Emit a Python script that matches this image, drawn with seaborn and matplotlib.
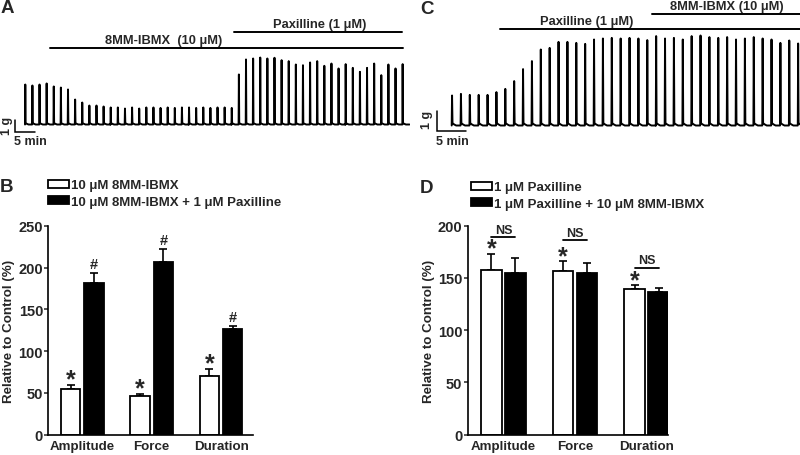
import numpy as np
import pandas as pd
import matplotlib
matplotlib.use('Agg')
import matplotlib.pyplot as plt
import seaborn as sns
from matplotlib.lines import Line2D
from matplotlib.patches import Patch

sns.set_theme(style='ticks')
plt.rcParams['font.family'] = ['Liberation Sans', 'DejaVu Sans']
plt.rcParams['font.weight'] = 'bold'
plt.rcParams['axes.labelweight'] = 'bold'

# ── Data ──────────────────────────────────────────────────────────────────────

# Panel A: contraction amplitude (g) of each spike, 8MM-IBMX then + paxilline
trace_a_ibmx = [3.33, 3.25, 3.33, 3.42, 3.17, 3.08, 2.92,
                2.08, 1.83, 1.58, 1.58, 1.50, 1.42, 1.42, 1.33, 1.42, 1.33, 1.42,
                1.42, 1.38, 1.42, 1.38, 1.42, 1.42, 1.38, 1.42, 1.38, 1.42, 1.42, 1.38]
trace_a_pax = [4.17, 5.42, 5.50, 5.58, 5.50, 5.56, 5.36, 5.28, 5.00, 4.94, 5.17, 5.28,
               4.89, 5.08, 4.67, 5.03, 4.72, 4.39, 4.72, 5.08, 4.11, 5.00, 4.67, 5.03]
period_a = 1.78   # min between contractions

# Panel C: paxilline first, then + 8MM-IBMX
trace_c = [1.50, 1.58, 1.53, 1.53, 1.53, 1.67, 1.83, 2.22, 2.82, 3.22, 3.80, 3.88,
           4.18, 4.18, 4.13, 4.08, 4.30, 4.35, 4.38, 4.35, 4.38, 4.35, 4.27, 4.47,
           4.35, 4.38, 4.30, 4.47, 4.50, 4.42, 4.38, 4.42, 4.30, 4.35, 4.42, 4.35,
           4.30, 4.13, 4.25, 4.10]
period_c = 1.53

measures = ['Amplitude', 'Force', 'Duration']

# Panel B
b_names = ['10 \u03bcM 8MM-IBMX', '10 \u03bcM 8MM-IBMX + 1 \u03bcM Paxilline']
b_white = [55, 46, 70]
b_white_sem = [4, 3, 8]
b_black = [182, 207, 126]
b_black_sem = [11, 15, 4]
b_black_marks = ['#', '#', '#']

# Panel D
d_names = ['1 \u03bcM Paxilline', '1 \u03bcM Paxilline + 10 \u03bcM 8MM-IBMX']
d_white = [158, 157, 139]
d_white_sem = [15, 9, 4]
d_black = [155, 155, 137]
d_black_sem = [14, 9, 3]
d_ns_level = [189, 186, 160]

# ── Layout helpers (pixels from top-left) ─────────────────────────────────────

W, H = 800, 456

def box(x0, y0, x1, y1):
    return [x0 / W, 1 - y1 / H, (x1 - x0) / W, (y1 - y0) / H]

def fx(x):
    return x / W

def fy(y):
    return 1 - y / H

fig = plt.figure(figsize=(8, 4.56), dpi=100)


# ── Traces ────────────────────────────────────────────────────────────────────

def spike_frame(amps, period, tail=0.12):
    rows = []
    for i, a in enumerate(amps):
        t = i * period
        for dt, y in [(0.0, 0.0), (0.04, a), (0.09, tail), (0.25, tail * 0.5),
                      (0.5, 0.0), (1.0, 0.0)]:
            rows.append((t + dt * period, y))
    return pd.DataFrame(rows, columns=['time', 'force'])


def draw_trace(ax_box, amps, period, x0_px, base_px, px_per_min, px_per_g,
               bar_px, g_label_px, min_label_px):
    ax = fig.add_axes(box(*ax_box))
    df = spike_frame(amps, period)
    sns.lineplot(data=df, x='time', y='force', sort=False, estimator=None,
                 color='black', lw=1.4, solid_joinstyle='round', ax=ax)
    left, top, right, bottom = ax_box
    ax.set_xlim((left - x0_px) / px_per_min, (right - x0_px) / px_per_min)
    ax.set_ylim((base_px - bottom) / px_per_g, (base_px - top) / px_per_g)
    ax.axis('off')
    # scale bar: 1 g, 5 min
    bx = (bar_px[0] - x0_px) / px_per_min
    by = (base_px - bar_px[1]) / px_per_g
    ax.plot([bx, bx, bx + 5], [by + 1, by, by], color='black', lw=1.1,
            solid_joinstyle='miter', clip_on=False)
    ax.text((g_label_px[0] - x0_px) / px_per_min, (base_px - g_label_px[1]) / px_per_g,
            '1 g', rotation=90, ha='center', va='center', fontsize=9)
    ax.text((min_label_px[0] - x0_px) / px_per_min, (base_px - min_label_px[1]) / px_per_g,
            '5 min', ha='left', va='center', fontsize=9)
    return ax


ax_a = draw_trace((0, 0, 410, 150), trace_a_ibmx + trace_a_pax, period_a,
                  25, 125.5, 4.0, 12, (15, 133), (7, 126), (14, 142))
ax_c = draw_trace((400, 0, 800, 150), trace_c, period_c,
                  451.7, 126.5, 5.8, 20, (437, 132), (427, 120), (436, 142))

# treatment bars
def treatment(x0, x1, y, label, lx, ly):
    fig.add_artist(Line2D([fx(x0), fx(x1)], [fy(y), fy(y)], color='black', lw=1.4))
    fig.text(fx(lx), fy(ly), label, ha='center', va='center', fontsize=9.3)

treatment(50, 403, 49, '8MM-IBMX  (10 \u03bcM)', 164, 41)
treatment(234, 402, 33, 'Paxilline (1 \u03bcM)', 320, 25)
treatment(500, 800, 30, 'Paxilline (1 \u03bcM)', 587, 22)
treatment(652, 800, 15, '8MM-IBMX (10 \u03bcM)', 727, 7)


# ── Bar panels ────────────────────────────────────────────────────────────────

def draw_bars(ax_box, names, white, white_sem, black, black_sem, ymax, xlim):
    ax = fig.add_axes(box(*ax_box))
    df = pd.DataFrame({'measure': measures * 2,
                       'group': [names[0]] * 3 + [names[1]] * 3,
                       'value': white + black})
    sns.barplot(data=df, x='measure', y='value', hue='group', hue_order=names,
                palette=['white', 'black'], edgecolor='black', linewidth=1.3,
                width=0.67, gap=0.16, errorbar=None, legend=False, ax=ax)
    bar_conts = list(ax.containers)
    centers = []
    for cont, sem in zip(bar_conts, [white_sem, black_sem]):
        xs = [p.get_x() + p.get_width() / 2 for p in cont]
        ys = [p.get_height() for p in cont]
        ax.errorbar(xs, ys, yerr=[np.zeros(len(sem)), sem], fmt='none',
                    ecolor='black', elinewidth=1.2, capsize=3.2, capthick=1.2,
                    zorder=0.5)
        centers.append(xs)
    ax.set_ylim(0, ymax)
    ax.set_xlim(*xlim)
    ax.set_yticks(np.arange(0, ymax + 1, 50))
    ax.set_xlabel('')
    ax.set_ylabel('Relative to Control (%)', fontsize=9.6)
    ax.yaxis.set_label_coords(-0.165, 0.5)
    ax.tick_params(axis='y', length=3, width=1.1, pad=0.8, labelsize=10.5)
    ax.tick_params(axis='x', length=0, pad=3.5, labelsize=9.6)
    for s in ['top', 'right']:
        ax.spines[s].set_visible(False)
    for s in ['left', 'bottom']:
        ax.spines[s].set_linewidth(1.2)
        ax.spines[s].set_color('black')
    for lab in ax.get_xticklabels() + ax.get_yticklabels():
        lab.set_fontweight('bold')
    handles = [Patch(facecolor='white', edgecolor='black', lw=1.3),
               Patch(facecolor='black', edgecolor='black', lw=1.3)]
    return ax, centers, handles


def star(ax, x, y, off):
    ax.annotate('*', (x, y), xytext=(0, off), textcoords='offset points',
                ha='center', va='center', fontsize=18)


legend_kw = dict(loc='upper left', frameon=False, fontsize=9.5, handlelength=1.65,
                 handleheight=0.62, handletextpad=0.1, labelspacing=0.32,
                 borderpad=0, borderaxespad=0)

# B
ax_b, cen_b, h_b = draw_bars((48.3, 226.7, 253, 435.7), b_names, b_white, b_white_sem,
                             b_black, b_black_sem, 250, (-0.49, 2.46))
for i in range(3):
    star(ax_b, cen_b[0][i], b_white[i] + b_white_sem[i], 4.2)
    ax_b.annotate(b_black_marks[i], (cen_b[1][i], b_black[i] + b_black_sem[i]),
                  xytext=(0, 6.5), textcoords='offset points', ha='center',
                  va='center', fontsize=10.5)
fig.legend(h_b, b_names, bbox_to_anchor=(fx(47.5), fy(180.5)), **legend_kw)

# D
ax_d, cen_d, h_d = draw_bars((467.7, 226.7, 668, 435.7), d_names, d_white, d_white_sem,
                             d_black, d_black_sem, 200, (-0.5, 2.3))
for i in range(3):
    star(ax_d, cen_d[0][i], d_white[i] + d_white_sem[i], 3.8)
    ax_d.plot([cen_d[0][i], cen_d[1][i]], [d_ns_level[i]] * 2, color='black',
              lw=1.3, clip_on=False)
    ax_d.annotate('NS', ((cen_d[0][i] + cen_d[1][i]) / 2, d_ns_level[i]),
                  xytext=(0, 1), textcoords='offset points', ha='center',
                  va='bottom', fontsize=9)
fig.legend(h_d, d_names, bbox_to_anchor=(fx(470.5), fy(182.5)), **legend_kw)

# panel letters
for letter, x, y in [('A', 1, 0), ('C', 420, 1), ('B', 0, 179), ('D', 420, 180)]:
    fig.text(fx(x), fy(y), letter, ha='left', va='top', fontsize=13.5)

fig.savefig('out.png', dpi=100)
